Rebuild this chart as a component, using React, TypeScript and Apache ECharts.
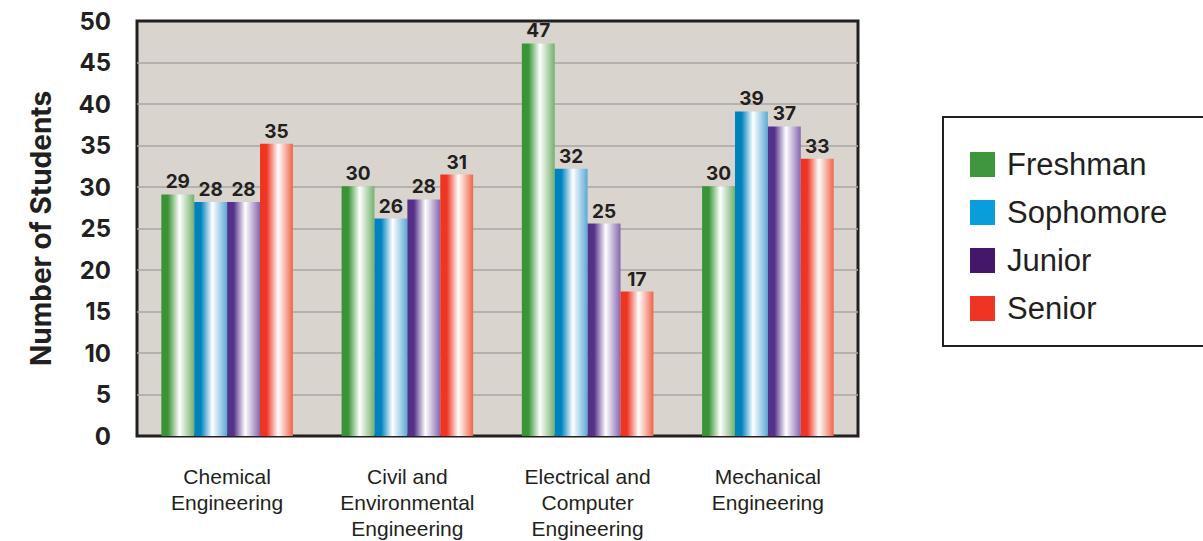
import React, { useEffect, useRef } from "react";
import * as echarts from "echarts";

const categories = [
  "Chemical\nEngineering",
  "Civil and\nEnvironmental\nEngineering",
  "Electrical and\nComputer\nEngineering",
  "Mechanical\nEngineering",
];
const seriesNames = ["Freshman", "Sophomore", "Junior", "Senior"];
const freshman = [29.1, 30.1, 47.3, 30.1];
const sophomore = [28.2, 26.2, 32.2, 39.1];
const junior = [28.2, 28.5, 25.6, 37.3];
const senior = [35.2, 31.5, 17.4, 33.4];
const yTicks = [0, 5, 10, 15, 20, 25, 30, 35, 40, 45, 50];

const FONT = "'Liberation Sans', Arial, Helvetica, sans-serif";
const BOLD = "Inter, 'Liberation Sans', Arial, sans-serif";
const TEXT = "#231f20";

const legendColors = ["#3f963c", "#0a9ddc", "#44176a", "#ee3524"];
const gradStops = [
  ["#3a9437", "#ffffff", "#73b06c"],
  ["#0082bd", "#ffffff", "#5aa9d6"],
  ["#55328a", "#ffffff", "#8466ad"],
  ["#ee3524", "#ffffff", "#f06448"],
];

function grad(i: number) {
  const s = gradStops[i];
  return new echarts.graphic.LinearGradient(0, 0, 1, 0, [
    { offset: 0, color: s[0] },
    { offset: 0.2, color: s[0] },
    { offset: 0.55, color: s[1] },
    { offset: 1, color: s[2] },
  ]);
}

export default function App() {
  const ref = useRef<HTMLDivElement>(null);
  useEffect(() => {
    if (!ref.current) return;
    const chart = echarts.init(ref.current, undefined, { renderer: "svg" });
    const datasets = [freshman, sophomore, junior, senior];
    chart.setOption({
      animation: false,
      backgroundColor: "#ffffff",
      textStyle: { fontFamily: FONT },
      grid: {
        left: 137,
        right: 345,
        top: 21,
        bottom: 101,
        show: true,
        backgroundColor: "#d9d4ce",
        borderColor: TEXT,
        borderWidth: 3,
        containLabel: false,
      },
      legend: {
        orient: "vertical",
        left: 965,
        top: 144,
        itemWidth: 25,
        itemHeight: 25,
        itemGap: 17,
        icon: "rect",
        data: seriesNames.map((n, i) => ({ name: n, itemStyle: { color: legendColors[i] } })),
        textStyle: {
          fontSize: 31,
          color: TEXT,
          fontFamily: FONT,
          padding: [0, 0, 0, 7],
        },
      },
      graphic: [
        {
          type: "rect",
          shape: { x: 943, y: 117, width: 300, height: 229 },
          style: { fill: "none", stroke: TEXT, lineWidth: 2 },
          z: 0,
        },
      ],
      xAxis: {
        type: "category",
        data: categories,
        axisTick: { show: false },
        axisLine: { show: false },
        axisLabel: {
          fontSize: 21,
          lineHeight: 26,
          color: TEXT,
          margin: 27,
          fontFamily: FONT,
          interval: 0,
        },
      },
      yAxis: {
        type: "value",
        min: 0,
        max: 50,
        interval: 5,
        axisLine: { show: false },
        axisTick: { show: false },
        splitLine: {
          showMinLine: false,
          showMaxLine: false,
          lineStyle: { color: "#a8a6a4", width: 1.5 },
        },
        axisLabel: {
          fontSize: 24,
          fontWeight: "bold",
          color: TEXT,
          margin: 26,
          fontFamily: BOLD,
          formatter: (v: number) => (yTicks.includes(v) ? String(v) : ""),
        },
        name: "Number of Students",
        nameLocation: "middle",
        nameGap: 82,
        nameTextStyle: { fontSize: 28, fontWeight: "bold", color: TEXT, fontFamily: BOLD },
      },
      series: datasets.map((d, i) => ({
        name: seriesNames[i],
        type: "bar",
        data: d,
        barGap: "0%",
        barCategoryGap: "27%",
        itemStyle: { color: grad(i) },
        label: {
          show: true,
          position: "top",
          distance: 3,
          fontSize: 19,
          fontWeight: "bold",
          color: TEXT,
          fontFamily: BOLD,
          formatter: (p: any) => String(Math.floor(p.value)),
        },
      })),
    });
    return () => chart.dispose();
  }, []);
  return (
    <div
      ref={ref}
      style={{ position: "fixed", left: 0, top: 0, width: 1203, height: 541 }}
    />
  );
}
